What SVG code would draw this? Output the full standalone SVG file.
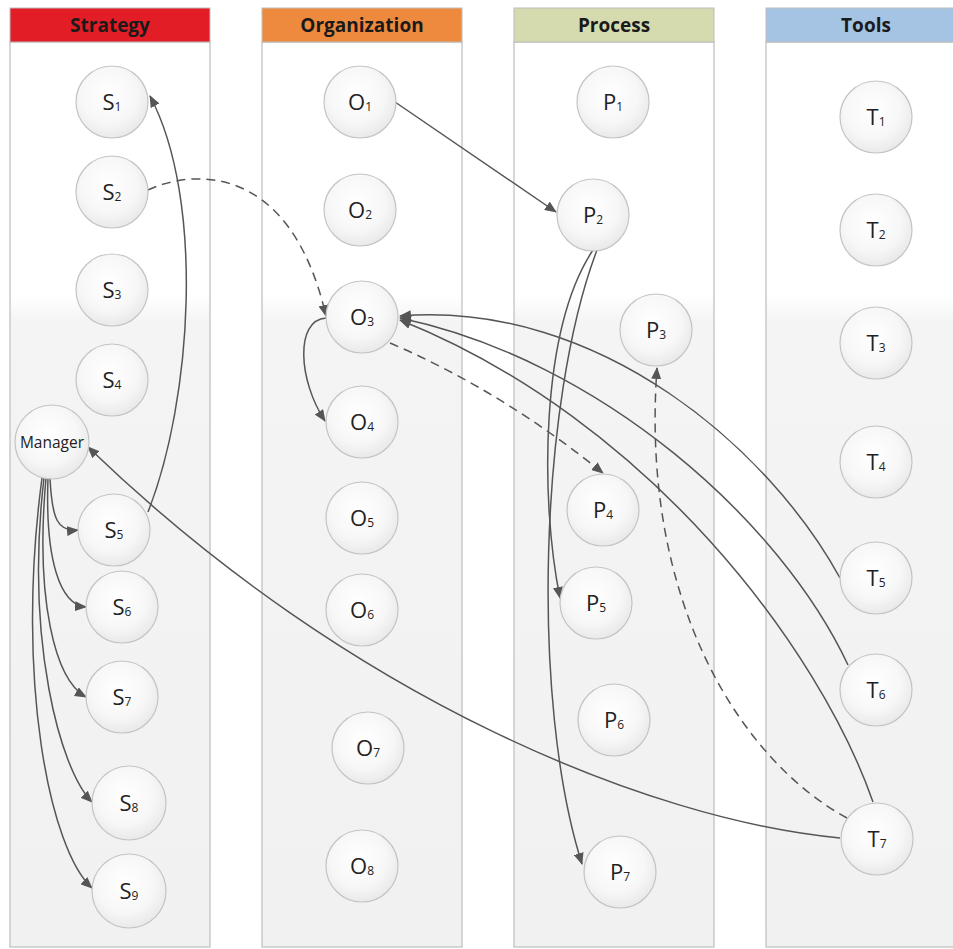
<svg xmlns="http://www.w3.org/2000/svg" width="953" height="949" viewBox="0 0 953 949">
<defs>
<linearGradient id="laneG" x1="0" y1="0" x2="0" y2="1">
<stop offset="0" stop-color="#ffffff"/>
<stop offset="0.28" stop-color="#ffffff"/>
<stop offset="0.31" stop-color="#f4f4f4"/>
<stop offset="1" stop-color="#f1f1f1"/>
</linearGradient>
<radialGradient id="nodeG" cx="0.45" cy="0.4" r="0.65">
<stop offset="0" stop-color="#ffffff"/>
<stop offset="0.6" stop-color="#f7f7f7"/>
<stop offset="1" stop-color="#e6e6e6"/>
</radialGradient>
<marker id="arr" markerWidth="12" markerHeight="10" refX="11" refY="5" orient="auto" markerUnits="userSpaceOnUse">
<path d="M0,0 L12,5 L0,10 Z" fill="#555555"/>
</marker>
</defs>
<style>
.lane{fill:url(#laneG);stroke:#bdbdbd;stroke-width:1.2}
.hdr{font-family:"Open Sans","Liberation Sans",sans-serif;font-weight:bold;font-size:19px;fill:#1a1a1a;text-anchor:middle}
.node circle{fill:url(#nodeG);stroke:#c4c4c4;stroke-width:1.2}
.node text{font-family:"Open Sans","Liberation Sans",sans-serif;font-size:22px;fill:#222;text-anchor:middle}
.sub{font-size:12px}
.e{fill:none;stroke:#555555;stroke-width:1.5;marker-end:url(#arr)}
.d{stroke-dasharray:9,6}
</style>
<rect x="0" y="0" width="953" height="949" fill="#ffffff"/>
<g id="lanes">
<rect class="lane" x="10" y="42" width="200" height="905"/>
<rect class="lane" x="262" y="42" width="200" height="905"/>
<rect class="lane" x="514" y="42" width="200" height="905"/>
<rect class="lane" x="766" y="42" width="200" height="905"/>
<rect x="10" y="8" width="200" height="34" fill="#e31d26" stroke="#bdbdbd"/>
<rect x="262" y="8" width="200" height="34" fill="#ee8a3e" stroke="#bdbdbd"/>
<rect x="514" y="8" width="200" height="34" fill="#d6daaf" stroke="#bdbdbd"/>
<rect x="766" y="8" width="200" height="34" fill="#a5c3e2" stroke="#bdbdbd"/>
<text class="hdr" x="110" y="32">Strategy</text>
<text class="hdr" x="362" y="32">Organization</text>
<text class="hdr" x="614" y="32">Process</text>
<text class="hdr" x="866" y="32">Tools</text>
</g>
<g id="connectors">
<path class="e" d="M148,512 C192,400 205,200 150,96"/>
<path class="e d" d="M148,190 C190,170 290,160 326,316"/>
<path class="e" d="M326,318 C295,320 298,380 325,421"/>
<path class="e" d="M395,102 L556,212"/>
<path class="e d" d="M390,343 Q500,390 603,473"/>
<path class="e" d="M593,250 C540,330 540,500 560,598"/>
<path class="e" d="M597,250 C540,400 530,700 582,864"/>
<path class="e" d="M840,578 C770,450 600,300 400,316"/>
<path class="e" d="M848,665 C780,520 600,360 400,318"/>
<path class="e" d="M873,802 C820,650 650,420 400,320"/>
<path class="e d" d="M847,818 C740,760 640,600 657,368"/>
<path class="e" d="M840,838 C650,820 350,700 88,447"/>
<path class="e" d="M50,478 C52,520 58,532 78,530"/>
<path class="e" d="M48,478 C45,560 60,605 86,607"/>
<path class="e" d="M46,478 C35,600 55,680 86,697"/>
<path class="e" d="M44,478 C25,640 60,770 92,802"/>
<path class="e" d="M42,478 C15,680 50,850 92,888"/>
</g>
<g id="S1" class="node"><circle cx="112" cy="102" r="36"/><text x="112" y="110">S<tspan class="sub" dy="1">1</tspan></text></g>
<g id="S2" class="node"><circle cx="112" cy="192" r="36"/><text x="112" y="200">S<tspan class="sub" dy="1">2</tspan></text></g>
<g id="S3" class="node"><circle cx="112" cy="290" r="36"/><text x="112" y="298">S<tspan class="sub" dy="1">3</tspan></text></g>
<g id="S4" class="node"><circle cx="112" cy="380" r="36"/><text x="112" y="388">S<tspan class="sub" dy="1">4</tspan></text></g>
<g id="Manager" class="node"><circle cx="52" cy="442" r="37"/><text x="52" y="448" style="font-size:15.5px">Manager</text></g>
<g id="S5" class="node"><circle cx="114" cy="530" r="36"/><text x="114" y="538">S<tspan class="sub" dy="1">5</tspan></text></g>
<g id="S6" class="node"><circle cx="122" cy="607" r="36"/><text x="122" y="615">S<tspan class="sub" dy="1">6</tspan></text></g>
<g id="S7" class="node"><circle cx="122" cy="697" r="36"/><text x="122" y="705">S<tspan class="sub" dy="1">7</tspan></text></g>
<g id="S8" class="node"><circle cx="129" cy="803" r="37"/><text x="129" y="811">S<tspan class="sub" dy="1">8</tspan></text></g>
<g id="S9" class="node"><circle cx="129" cy="891" r="37"/><text x="129" y="899">S<tspan class="sub" dy="1">9</tspan></text></g>
<g id="O1" class="node"><circle cx="360" cy="102" r="36"/><text x="360" y="110">O<tspan class="sub" dy="1">1</tspan></text></g>
<g id="O2" class="node"><circle cx="360" cy="210" r="36"/><text x="360" y="218">O<tspan class="sub" dy="1">2</tspan></text></g>
<g id="O3" class="node"><circle cx="362" cy="317" r="36"/><text x="362" y="325">O<tspan class="sub" dy="1">3</tspan></text></g>
<g id="O4" class="node"><circle cx="362" cy="422" r="36"/><text x="362" y="430">O<tspan class="sub" dy="1">4</tspan></text></g>
<g id="O5" class="node"><circle cx="362" cy="518" r="36"/><text x="362" y="526">O<tspan class="sub" dy="1">5</tspan></text></g>
<g id="O6" class="node"><circle cx="362" cy="610" r="36"/><text x="362" y="618">O<tspan class="sub" dy="1">6</tspan></text></g>
<g id="O7" class="node"><circle cx="368" cy="748" r="36"/><text x="368" y="756">O<tspan class="sub" dy="1">7</tspan></text></g>
<g id="O8" class="node"><circle cx="362" cy="866" r="36"/><text x="362" y="874">O<tspan class="sub" dy="1">8</tspan></text></g>
<g id="P1" class="node"><circle cx="613" cy="102" r="36"/><text x="613" y="110">P<tspan class="sub" dy="1">1</tspan></text></g>
<g id="P2" class="node"><circle cx="593" cy="215" r="36"/><text x="593" y="223">P<tspan class="sub" dy="1">2</tspan></text></g>
<g id="P3" class="node"><circle cx="656" cy="330" r="36"/><text x="656" y="338">P<tspan class="sub" dy="1">3</tspan></text></g>
<g id="P4" class="node"><circle cx="603" cy="510" r="36"/><text x="603" y="518">P<tspan class="sub" dy="1">4</tspan></text></g>
<g id="P5" class="node"><circle cx="596" cy="603" r="36"/><text x="596" y="611">P<tspan class="sub" dy="1">5</tspan></text></g>
<g id="P6" class="node"><circle cx="614" cy="720" r="36"/><text x="614" y="728">P<tspan class="sub" dy="1">6</tspan></text></g>
<g id="P7" class="node"><circle cx="620" cy="872" r="36"/><text x="620" y="880">P<tspan class="sub" dy="1">7</tspan></text></g>
<g id="T1" class="node"><circle cx="876" cy="117" r="36"/><text x="876" y="125">T<tspan class="sub" dy="1">1</tspan></text></g>
<g id="T2" class="node"><circle cx="876" cy="230" r="36"/><text x="876" y="238">T<tspan class="sub" dy="1">2</tspan></text></g>
<g id="T3" class="node"><circle cx="876" cy="343" r="36"/><text x="876" y="351">T<tspan class="sub" dy="1">3</tspan></text></g>
<g id="T4" class="node"><circle cx="876" cy="462" r="36"/><text x="876" y="470">T<tspan class="sub" dy="1">4</tspan></text></g>
<g id="T5" class="node"><circle cx="876" cy="578" r="36"/><text x="876" y="586">T<tspan class="sub" dy="1">5</tspan></text></g>
<g id="T6" class="node"><circle cx="876" cy="690" r="36"/><text x="876" y="698">T<tspan class="sub" dy="1">6</tspan></text></g>
<g id="T7" class="node"><circle cx="877" cy="839" r="36"/><text x="877" y="847">T<tspan class="sub" dy="1">7</tspan></text></g>
</svg>
